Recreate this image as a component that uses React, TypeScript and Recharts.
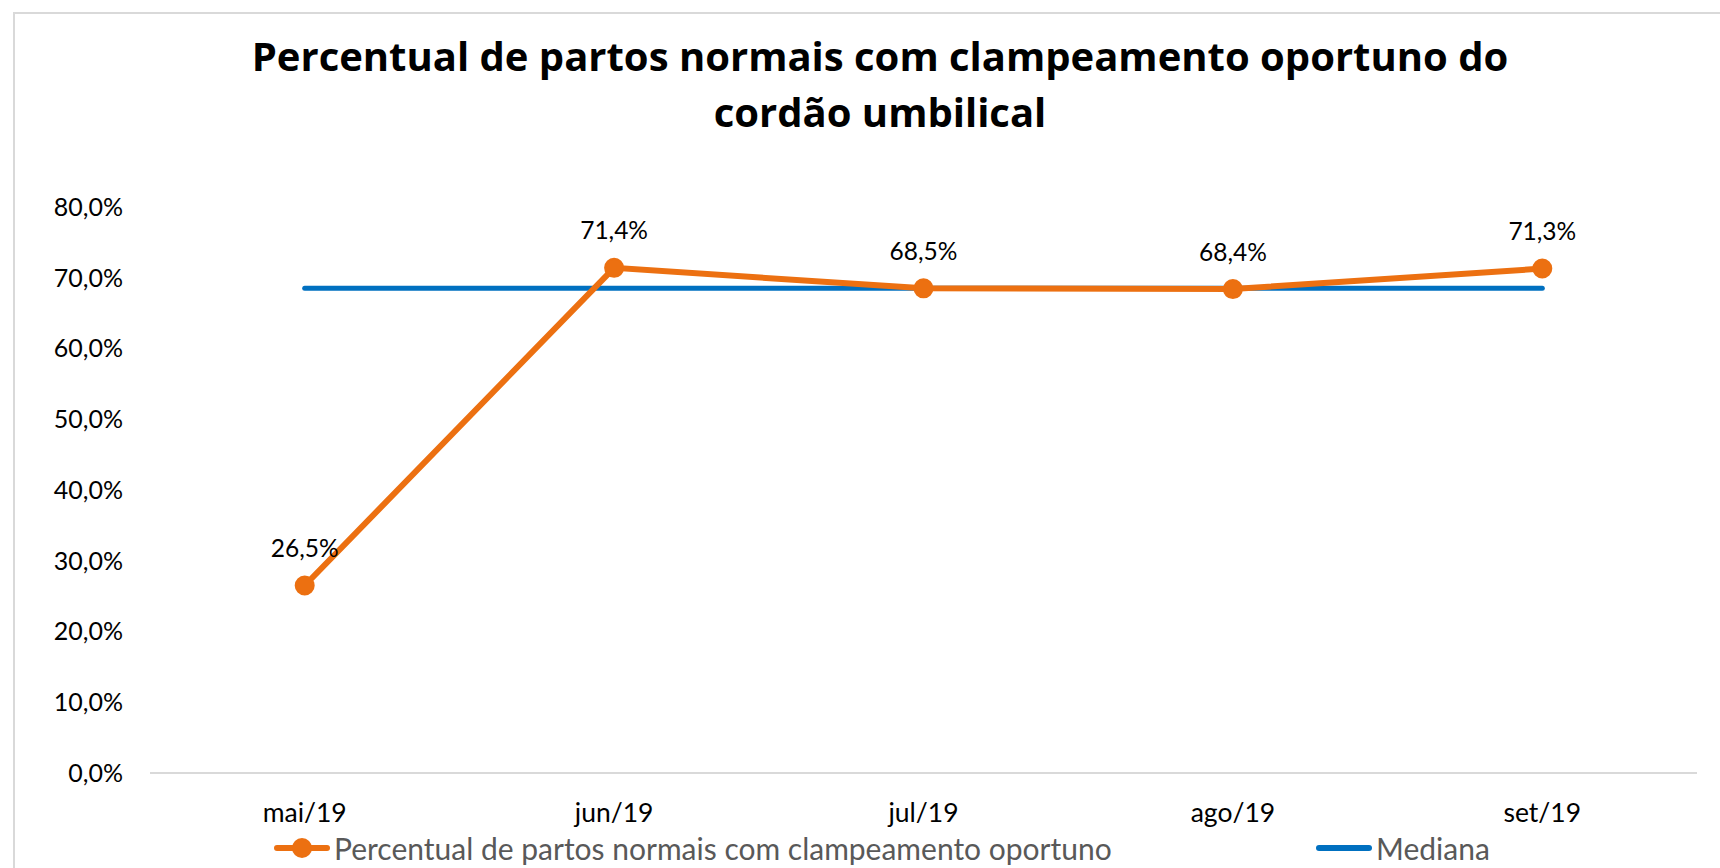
import React from "react";
import { LineChart, Line, XAxis, YAxis, LabelList } from "recharts";

const categories = ["mai/19", "jun/19", "jul/19", "ago/19", "set/19"];
const percentual = [26.5, 71.4, 68.5, 68.4, 71.3];
const mediana = [68.5, 68.5, 68.5, 68.5, 68.5];
const yTicks = [0, 10, 20, 30, 40, 50, 60, 70, 80];

const title1 = "Percentual de partos normais com clampeamento oportuno do";
const title2 = "cordão umbilical";
const seriesName = "Percentual de partos normais com clampeamento oportuno";
const medianName = "Mediana";

const data = categories.map((c, i) => ({ cat: c, pct: percentual[i], med: mediana[i] }));

const ORANGE = "#EC7011";
const BLUE = "#0070C0";
const FONT = "Lato, 'Liberation Sans', sans-serif";
const TITLE_FONT = "'Open Sans', Lato, sans-serif";

const fmt = (v: number) => v.toFixed(1).replace(".", ",") + "%";

const DataLabel = (props: any) => {
  const { x, y, value } = props;
  return (
    <text x={x} y={y - 38} textAnchor="middle" dominantBaseline="central" fontFamily={FONT} fontSize={24.5} fill="#000">
      {fmt(value)}
    </text>
  );
};

const legendItems = [
  { name: seriesName, color: ORANGE, dot: true, left: 274 },
  { name: medianName, color: BLUE, dot: false, left: 1316 },
];

export default function App() {
  return (
    <div style={{ position: "fixed", left: 0, top: 0, width: 1720, height: 868, overflow: "hidden", background: "#fff" }}>
      <div style={{ position: "absolute", left: 13, top: 12, width: 1800, height: 1000, border: "2px solid #d9d9d9" }} />
      <div style={{ position: "absolute", left: 0, top: 28, width: 1760, textAlign: "center", fontFamily: TITLE_FONT, fontWeight: 700, fontSize: 40, lineHeight: "56px", color: "#000" }}>
        <div>{title1}</div>
        <div>{title2}</div>
      </div>
      <div style={{ position: "absolute", left: 0, top: 0 }}>
        <LineChart width={1720} height={868} data={data} margin={{ top: 207, right: 23, bottom: 65, left: 0 }}>
          <XAxis
            dataKey="cat"
            scale="band"
            height={30}
            axisLine={{ stroke: "#d9d9d9", strokeWidth: 2 }}
            tickLine={false}
            tickSize={0}
            tickMargin={30}
            tick={{ fontFamily: FONT, fontSize: 26.5, fill: "#000" }}
            interval={0}
          />
          <YAxis
            width={150}
            domain={[0, 80]}
            ticks={yTicks}
            axisLine={false}
            tickLine={false}
            tickSize={0}
            tickMargin={27}
            tickFormatter={fmt}
            tick={{ fontFamily: FONT, fontSize: 25, fill: "#000" }}
            interval={0}
          />
          <Line
            dataKey="med"
            name={medianName}
            stroke={BLUE}
            strokeWidth={5}
            strokeLinecap="round"
            dot={false}
            activeDot={false}
            isAnimationActive={false}
          />
          <Line
            dataKey="pct"
            name={seriesName}
            stroke={ORANGE}
            strokeWidth={6}
            dot={{ r: 9, fill: ORANGE, stroke: ORANGE, strokeWidth: 2 }}
            activeDot={false}
            isAnimationActive={false}
          >
            <LabelList dataKey="pct" content={<DataLabel />} />
          </Line>
        </LineChart>
      </div>
      <div style={{ position: "absolute", left: 0, top: 828, width: 1720, height: 40 }}>
        {legendItems.map((it, i) => (
          <div key={i} style={{ position: "absolute", left: it.left, top: 0, height: 40, display: "flex", alignItems: "center" }}>
            <svg width={56} height={40}>
              <line x1={3} y1={20} x2={53} y2={20} stroke={it.color} strokeWidth={6} strokeLinecap="round" />
              {it.dot && <circle cx={28} cy={20} r={10} fill={it.color} />}
            </svg>
            <span style={{ fontFamily: FONT, fontSize: 30, color: "#595959", marginLeft: 4 }}>{it.name}</span>
          </div>
        ))}
      </div>
    </div>
  );
}
